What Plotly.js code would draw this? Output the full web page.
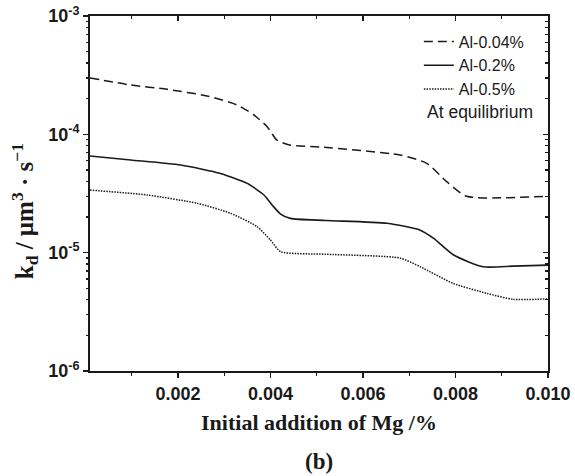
<!DOCTYPE html>
<html>
<head>
<meta charset="utf-8">
<script src="https://cdn.plot.ly/plotly-3.0.1.min.js"></script>
<style>html,body{margin:0;padding:0;background:#fff;}#chart{width:575px;height:476px;}</style>
</head>
<body>
<div id="chart"></div>
<script>
// Data
const seriesNames = ["Al-0.04%", "Al-0.2%", "Al-0.5%"];

const xAl004 = [0.0001, 0.00098, 0.00177, 0.00263, 0.00328, 0.00364, 0.00393, 0.00414, 0.00443, 0.0051, 0.0068, 0.00738, 0.00781, 0.00824, 0.0100];
const yAl004 = [3.0e-4, 2.61e-4, 2.40e-4, 2.11e-4, 1.77e-4, 1.46e-4, 1.16e-4, 8.95e-5, 8.1e-5, 7.8e-5, 6.68e-5, 5.69e-5, 3.98e-5, 3.0e-5, 3.0e-5];

const xAl02 = [0.0001, 0.00098, 0.00206, 0.00292, 0.00350, 0.00386, 0.00404, 0.00422, 0.00443, 0.0052, 0.00652, 0.00724, 0.00753, 0.00796, 0.00860, 0.00925, 0.0100];
const yAl02 = [6.56e-5, 6.07e-5, 5.5e-5, 4.67e-5, 3.85e-5, 3.07e-5, 2.52e-5, 2.12e-5, 1.95e-5, 1.87e-5, 1.77e-5, 1.55e-5, 1.32e-5, 9.55e-6, 7.6e-6, 7.7e-6, 7.85e-6];

const xAl05 = [0.0001, 0.00134, 0.00242, 0.00314, 0.00371, 0.00400, 0.00422, 0.0052, 0.0068, 0.00724, 0.00795, 0.00868, 0.00925, 0.0100];
const yAl05 = [3.38e-5, 3.07e-5, 2.61e-5, 2.15e-5, 1.66e-5, 1.28e-5, 1.02e-5, 9.7e-6, 9.0e-6, 7.6e-6, 5.5e-6, 4.53e-6, 4.03e-6, 4.07e-6];

const yTickVals = [1e-6, 1e-5, 1e-4, 1e-3];
const yTickText = ["10<sup>-6</sup>", "10<sup>-5</sup>", "10<sup>-4</sup>", "10<sup>-3</sup>"];
const xRange = [0.0001, 0.0100];
const yRangeLog = [-6, -3];

const xTitle = "Initial addition of Mg /%";
const yTitle = "k<sub>d</sub> / μm<sup>3</sup> · s<sup>−1</sup>";
const extraNote = "At equilibrium";
const panelLabel = "(b)";

// minor log ticks 2..9 per decade
const yMinor = [];
for (let e = -6; e < -3; e++) for (let m = 2; m <= 9; m++) yMinor.push(m * Math.pow(10, e));

const ink = "#1a1a1a";
const tickFont = {family: "Liberation Sans, Arial, sans-serif", size: 18, color: ink, weight: "bold"};
const serifBold = {family: "Liberation Serif, Times New Roman, serif", color: ink, weight: "bold"};

const traces = [
  {x: xAl004, y: yAl004, name: seriesNames[0], mode: "lines", line: {color: ink, width: 1.5, dash: "9px,5px", shape: "spline", smoothing: 0.6}},
  {x: xAl02, y: yAl02, name: seriesNames[1], mode: "lines", line: {color: ink, width: 1.6, shape: "spline", smoothing: 0.6}},
  {x: xAl05, y: yAl05, name: seriesNames[2], mode: "lines", line: {color: ink, width: 1.5, dash: "1.5px,1.2px", shape: "spline", smoothing: 0.6}},
  // empty helper traces so the tick-only axes get drawn
  {x: [null], y: [null], xaxis: "x2", yaxis: "y2", showlegend: false, hoverinfo: "skip", mode: "lines"},
  {x: [null], y: [null], xaxis: "x", yaxis: "y3", showlegend: false, hoverinfo: "skip", mode: "lines"},
  {x: [null], y: [null], xaxis: "x2", yaxis: "y4", showlegend: false, hoverinfo: "skip", mode: "lines"}
];

function tickAxisY(side, dir, vals, len) {
  return {overlaying: "y", side: side, anchor: "x", type: "log", range: yRangeLog, tickmode: "array", tickvals: vals,
          ticks: dir, ticklen: len, tickwidth: 1.3, tickcolor: ink, showticklabels: false,
          showgrid: false, zeroline: false, showline: false};
}

const layout = {
  width: 575, height: 476,
  margin: {l: 90, r: 27, t: 16, b: 105},
  paper_bgcolor: "#fff", plot_bgcolor: "#fff",
  showlegend: true,
  legend: {x: 0.718, y: 0.976, xanchor: "left", yanchor: "top", bgcolor: "rgba(0,0,0,0)",
           font: {family: "Liberation Sans, Arial, sans-serif", size: 16, color: ink},
           tracegroupgap: 0, itemwidth: 30},
  xaxis: {
    range: xRange, tick0: 0, dtick: 0.002, tickformat: ".3f",
    ticks: "outside", ticklen: 5, tickwidth: 1.5, tickcolor: ink,
    minor: {dtick: 0.001, tick0: 0, ticks: "outside", ticklen: 3, tickwidth: 1.3, tickcolor: ink, showgrid: false},
    showline: true, linewidth: 2, linecolor: ink, mirror: true,
    showgrid: false, zeroline: false, tickfont: tickFont,
    title: {text: xTitle, font: Object.assign({size: 22}, serifBold), standoff: 12}
  },
  yaxis: {
    type: "log", range: yRangeLog, tickmode: "array", tickvals: yTickVals, ticktext: yTickText,
    ticks: "outside", ticklen: 5, tickwidth: 1.5, tickcolor: ink,
    showline: true, linewidth: 2, linecolor: ink, mirror: true,
    showgrid: false, zeroline: false, tickfont: tickFont
  },
  xaxis2: {
    overlaying: "x", side: "top", anchor: "y", range: xRange, tick0: 0, dtick: 0.002,
    ticks: "inside", ticklen: 5, tickwidth: 1.5, tickcolor: ink, showticklabels: false,
    minor: {dtick: 0.001, tick0: 0, ticks: "inside", ticklen: 3, tickwidth: 1.3, tickcolor: ink, showgrid: false},
    showgrid: false, zeroline: false, showline: false
  },
  yaxis2: tickAxisY("right", "inside", yTickVals, 5),
  yaxis3: tickAxisY("left", "outside", yMinor, 3),
  yaxis4: tickAxisY("right", "inside", yMinor, 3),
  annotations: [
    {text: yTitle, textangle: -90, xref: "paper", yref: "paper", x: -0.142, y: 0.45, xanchor: "center", yanchor: "middle", showarrow: false,
     font: Object.assign({size: 25}, serifBold)},
    {text: extraNote, xref: "paper", yref: "paper", x: 0.852, y: 0.73, xanchor: "center", yanchor: "middle", showarrow: false,
     font: {family: "Liberation Sans, Arial, sans-serif", size: 17.5, color: ink}},
    {text: panelLabel, xref: "paper", yref: "paper", x: 0.5, y: -0.256, xanchor: "center", yanchor: "middle", showarrow: false,
     font: Object.assign({size: 23}, serifBold)}
  ]
};

Plotly.newPlot("chart", traces, layout, {staticPlot: true, displayModeBar: false});
</script>
</body>
</html>
